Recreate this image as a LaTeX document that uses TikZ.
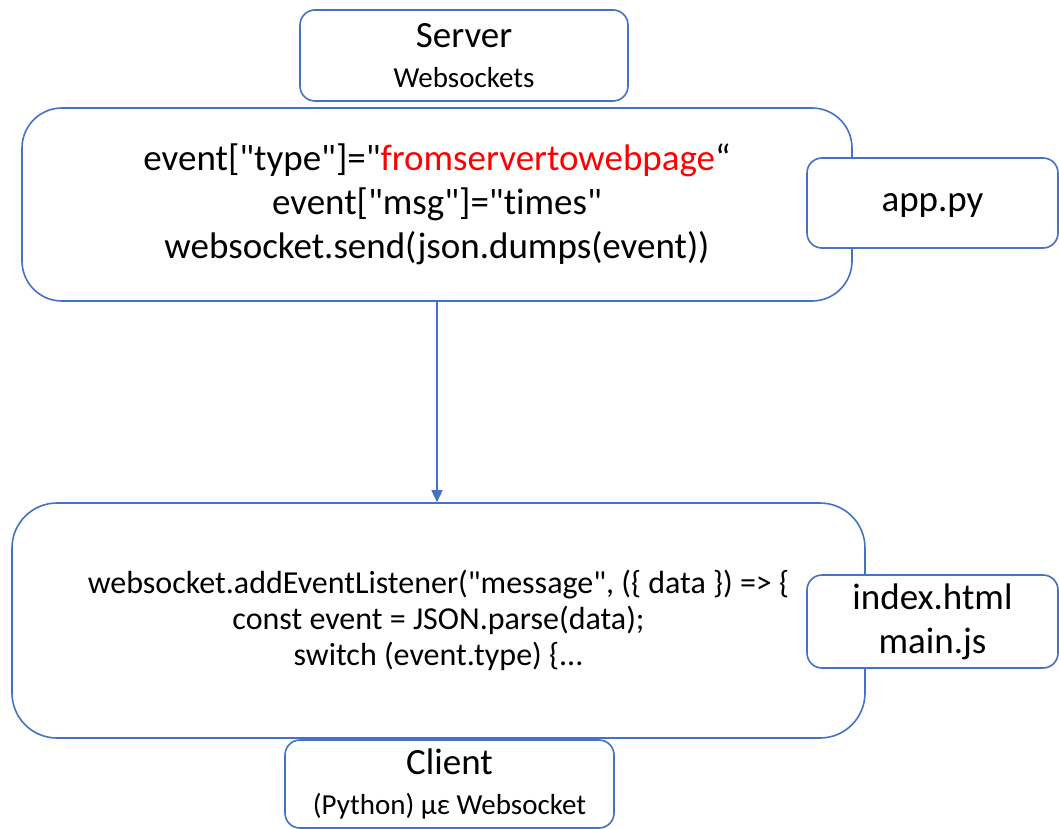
\documentclass[tikz,border=0pt]{standalone}
\usepackage{fontspec}
\setmainfont{Carlito}[Ligatures={TeXOff,CommonOff}]
\usepackage{xcolor}
\usetikzlibrary{arrows.meta, positioning}

\definecolor{boxblue}{RGB}{68,114,196}

\begin{document}
\begin{tikzpicture}[
    x=1pt, y=-1pt,
    panel/.style={rectangle, draw=boxblue, line width=1.6pt, fill=white, rounded corners=#1, align=center, inner sep=0pt},
    panel/.default=15pt,
    big/.style={font=\fontsize{37}{44}\selectfont},
    mid/.style={font=\fontsize{32}{36}\selectfont},
    pair/.style={font=\fontsize{29}{40}\selectfont},
]
    \useasboundingbox (0,0) rectangle (1059,829);

    \node[panel=40pt, big, minimum width=830pt, minimum height=193pt] (sender) at (437,204.5)
        {event["type"]="\textcolor{red}{fromservertowebpage}“\\event["msg"]="times"\\websocket.send(json.dumps(event))};
    \node[panel=45pt, mid, minimum width=853pt, minimum height=235pt] (receiver) at (438.5,620.5)
        {websocket.addEventListener("message", (\{ data \}) => \{\\const event = JSON.parse(data);\\switch (event.type) \{...};

    \node[panel, pair, minimum width=328pt, minimum height=91pt] (server) at (464,55.5)
        {{\fontsize{37}{40}\selectfont Server}\\Websockets};
    \node[panel, big, text depth=0pt, minimum width=251pt, minimum height=90pt] (app) at (932.5,203) {app.py};
    \node[panel, big, minimum width=251pt, minimum height=93pt] (files) at (932.5,621.5) {index.html\\main.js};
    \node[panel, pair, minimum width=329pt, minimum height=88pt] (client) at (449.5,784)
        {{\fontsize{37}{40}\selectfont Client}\\(Python) με Websocket};

    \draw[boxblue, line width=1.4pt, -{Triangle[length=12pt,width=11pt]}] (sender.south) -- (sender.south |- receiver.north);
\end{tikzpicture}
\end{document}
